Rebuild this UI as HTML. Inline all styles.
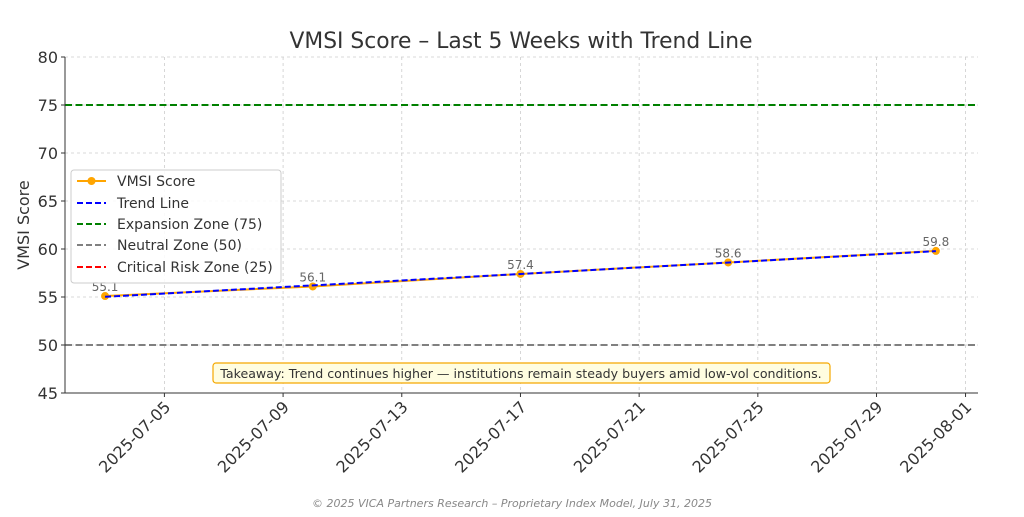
<!DOCTYPE html>
<html><head><meta charset="utf-8"><style>
body{margin:0;background:#fff;}
svg{font-family:"DejaVu Sans","Liberation Sans",sans-serif;}
</style></head><body>
<svg id="c" width="1024" height="512" xmlns="http://www.w3.org/2000/svg">
<rect width="1024" height="512" fill="#fff"/>
<text x="521" y="48" text-anchor="middle" font-size="21.8" fill="#333">VMSI Score – Last 5 Weeks with Trend Line</text>
<g id="grid"></g><g id="zones"></g><g id="series"></g><g id="axes"></g>
<text transform="translate(29,225) rotate(-90)" text-anchor="middle" font-size="16" fill="#333">VMSI Score</text>
<g>
<rect x="213" y="363" width="617" height="20" rx="3" fill="#fffde0" stroke="#f5a800" stroke-width="1.2"/>
<text x="521" y="378" text-anchor="middle" font-size="12.6" fill="#333">Takeaway: Trend continues higher — institutions remain steady buyers amid low-vol conditions.</text>
</g>
<text x="512" y="507" text-anchor="middle" font-size="11" font-style="italic" fill="#888">© 2025 VICA Partners Research – Proprietary Index Model, July 31, 2025</text>
<g>
<rect x="71" y="170" width="210" height="113" rx="3" fill="#fff" fill-opacity="0.85" stroke="#ccc"/>
<line x1="77" y1="181" x2="106" y2="181" stroke="orange" stroke-width="2"/><circle cx="91.5" cy="181" r="4" fill="orange"/>
<text x="117" y="186" font-size="14" fill="#333">VMSI Score</text>
<line x1="77" y1="203" x2="106" y2="203" stroke="blue" stroke-width="2" stroke-dasharray="6,3"/>
<text x="117" y="208" font-size="14" fill="#333">Trend Line</text>
<line x1="77" y1="224" x2="106" y2="224" stroke="green" stroke-width="2" stroke-dasharray="6,3"/>
<text x="117" y="229" font-size="14" fill="#333">Expansion Zone (75)</text>
<line x1="77" y1="245" x2="106" y2="245" stroke="gray" stroke-width="2" stroke-dasharray="6,3"/>
<text x="117" y="250" font-size="14" fill="#333">Neutral Zone (50)</text>
<line x1="77" y1="267" x2="106" y2="267" stroke="red" stroke-width="2" stroke-dasharray="6,3"/>
<text x="117" y="272" font-size="14" fill="#333">Critical Risk Zone (25)</text>
</g>
</svg>
<script>
const dates=["2025-07-03","2025-07-10","2025-07-17","2025-07-24","2025-07-31"];
const scores=[55.1,56.1,57.4,58.6,59.8];
const yTicks=[45,50,55,60,65,70,75,80];
const xTickLabels=["2025-07-05","2025-07-09","2025-07-13","2025-07-17","2025-07-21","2025-07-25","2025-07-29","2025-08-01"];
const zoneValues=[75,50,25];
const zoneColors=["green","gray","red"];
const NS="http://www.w3.org/2000/svg";
const L=65,R=978,T=57,B=393,yMin=45,yMax=80;
const day=s=>Date.parse(s+"T00:00:00Z")/864e5;
const d0=day("2025-07-03")-1.35,d1=day("2025-07-31")+1.42;
const X=s=>L+(day(s)-d0)/(d1-d0)*(R-L);
const Y=v=>B-(v-yMin)/(yMax-yMin)*(B-T);
function mk(p,tag,a){const e=document.createElementNS(NS,tag);for(const k in a)e.setAttribute(k,a[k]);p.appendChild(e);return e;}
const grid=document.getElementById('grid'),axes=document.getElementById('axes'),zones=document.getElementById('zones'),series=document.getElementById('series');
yTicks.forEach(v=>{const y=Y(v);
 const g=mk(grid,'line',{x1:L,x2:R,y1:y,y2:y,stroke:'#ccc','stroke-dasharray':'3,3','stroke-width':0.8});
 
 
 mk(axes,'line',{x1:L-4,x2:L,y1:y,y2:y,stroke:'#333'});
 const t=mk(axes,'text',{x:L-7,y:y+6,'text-anchor':'end','font-size':16,fill:'#333'});t.textContent=v;
 
 
});
xTickLabels.forEach(s=>{const x=X(s);
 const g=mk(grid,'line',{x1:x,x2:x,y1:T,y2:B,stroke:'#ccc','stroke-dasharray':'3,3','stroke-width':0.8});
 
 
 mk(axes,'line',{x1:x,x2:x,y1:B,y2:B+4,stroke:'#333'});
 const t=mk(axes,'text',{x:x+7,y:B+15,'text-anchor':'end','font-size':16,fill:'#333',transform:`rotate(-45 ${x+7} ${B+15})`});t.textContent=s;
 
 
});
mk(axes,'line',{x1:L,x2:L,y1:T,y2:B,stroke:'#333','stroke-width':1});
mk(axes,'line',{x1:L,x2:R,y1:B,y2:B,stroke:'#333','stroke-width':1});
zoneValues.forEach((v,i)=>{if(v<yMin||v>yMax)return;const y=Y(v);
 const z=mk(zones,'line',{x1:L,x2:R,y1:y,y2:y,stroke:zoneColors[i],'stroke-width':2,'stroke-dasharray':'7,3.5'});
 
 
});
const pts=dates.map((d,i)=>[X(d),Y(scores[i])]);
const line=mk(series,'polyline',{points:pts.map(p=>p.join(',')).join(' '),fill:'none',stroke:'orange','stroke-width':2});


const n=scores.length,xs=scores.map((_,i)=>i),mx=(n-1)/2,my=scores.reduce((a,b)=>a+b)/n;
let num=0,den=0;xs.forEach((x,i)=>{num+=(x-mx)*(scores[i]-my);den+=(x-mx)*(x-mx);});
const slope=num/den,icpt=my-slope*mx;
pts.forEach((p,i)=>{
 const c=mk(series,'circle',{cx:p[0],cy:p[1],r:4,fill:'orange'});
 
 
 const t=mk(series,'text',{x:p[0],y:p[1]-5,'text-anchor':'middle','font-size':12,fill:'#666'});t.textContent=scores[i].toFixed(1);
 
 
});
const tr=mk(series,'line',{x1:pts[0][0],y1:Y(icpt),x2:pts[n-1][0],y2:Y(icpt+slope*(n-1)),stroke:'blue','stroke-width':2,'stroke-dasharray':'6,3'});


</script>
</body></html>
